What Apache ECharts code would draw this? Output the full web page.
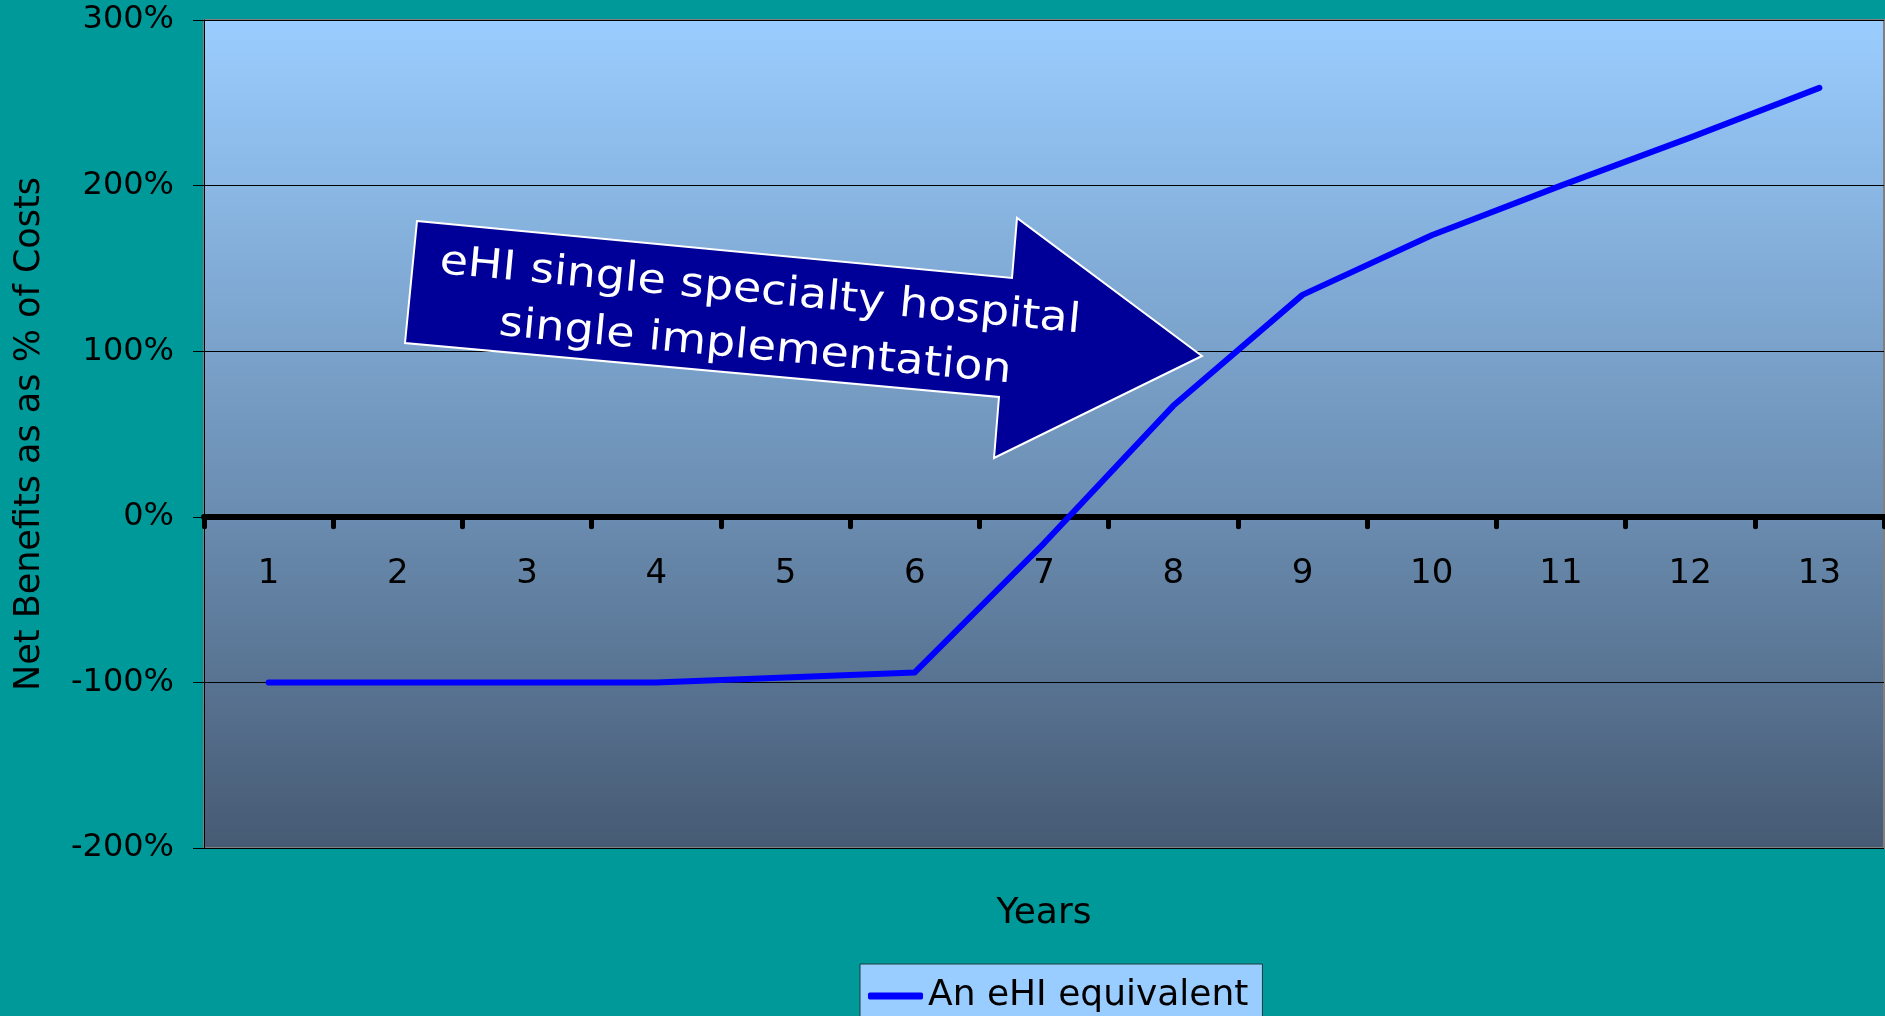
<!DOCTYPE html>
<html>
<head>
<meta charset="utf-8">
<title>Net Benefits</title>
<script src="https://cdn.jsdelivr.net/npm/echarts@6/dist/echarts.min.js"></script>
<style>
  html,body{margin:0;padding:0;background:#009999;}
  #main{width:1885px;height:1016px;}
</style>
</head>
<body>
<div id="main"></div>
<script>
// 年份 / 净收益占成本百分比
var years = ['1','2','3','4','5','6','7','8','9','10','11','12','13'];
var netBenefitPct = [-100, -100, -100, -100, -97, -94, -16, 67, 134, 170, 200, 229, 259];
var seriesName = 'An eHI equivalent';
var arrowLines = ['eHI single specialty hospital', 'single implementation'];

var FONT = 'DejaVu Sans';
var GRID_TOP = 20, GRID_BOTTOM = 168, H = 1016;
// x轴放在0%处：把底部轴向上偏移
var plotH = H - GRID_TOP - GRID_BOTTOM;
var zeroOffset = -plotH * (0 - (-200)) / (300 - (-200));

var chart = echarts.init(document.getElementById('main'));

var option = {
    backgroundColor: '#009999',
    textStyle: { fontFamily: FONT },
    grid: {
        left: 204, right: 1, top: GRID_TOP, bottom: GRID_BOTTOM,
        containLabel: false,
        outerBoundsMode: 'none',
        show: true,
        backgroundColor: new echarts.graphic.LinearGradient(0, 0, 0, 1, [
            { offset: 0, color: '#9acdff' },
            { offset: 0.6, color: '#6a8cb0' },
            { offset: 1, color: '#465a73' }
        ]),
        borderColor: '#808080',
        borderWidth: 2
    },
    legend: {
        left: 860, top: 964,
        padding: [14, 14, 16, 8],
        backgroundColor: '#99ccff',
        borderColor: '#1d3c3c',
        borderWidth: 1,
        icon: 'roundRect',
        itemWidth: 55, itemHeight: 7,
        itemStyle: { color: '#0000ff' },
        textStyle: { fontSize: 36, color: '#000', fontFamily: FONT },
        data: [seriesName]
    },
    xAxis: {
        type: 'category',
        data: years,
        boundaryGap: true,
        position: 'bottom',
        offset: zeroOffset,
        name: 'Years',
        nameLocation: 'middle',
        nameGap: 379,
        nameTextStyle: { fontSize: 36, color: '#000', fontFamily: FONT },
        axisLine: { onZero: false, lineStyle: { color: '#000', width: 6 } },
        axisTick: { show: true, length: 10, lineStyle: { color: '#000', width: 5, cap: 'round' } },
        axisLabel: { fontSize: 34, color: '#000', margin: 40, fontFamily: FONT },
        splitLine: { show: false }
    },
    yAxis: {
        type: 'value',
        min: -200, max: 300, interval: 100,
        name: 'Net Benefits as as % of Costs',
        nameLocation: 'middle',
        nameGap: 157,
        nameTextStyle: { fontSize: 35, color: '#000', fontFamily: FONT },
        axisLine: { show: true, lineStyle: { color: '#000', width: 1 } },
        axisTick: { show: true, length: 11, lineStyle: { color: '#000', width: 1 } },
        axisLabel: { fontSize: 32, color: '#000', margin: 30, formatter: '{value}%', fontFamily: FONT },
        splitLine: { show: true, lineStyle: { color: '#000', width: 1 } }
    },
    series: [{
        name: seriesName,
        type: 'line',
        data: netBenefitPct,
        symbol: 'none',
        z: 3,
        lineStyle: { color: '#0000ff', width: 6, cap: 'round', join: 'round' },
        itemStyle: { color: '#0000ff' }
    }],
    //箭头注释
    graphic: [{
        type: 'polygon',
        z: 1,
        shape: {
            points: [[417,221],[1012,278],[1017,218],[1202,356],[994,458],[999,397],[405,343]]
        },
        style: { fill: '#000099', stroke: '#ffffff', lineWidth: 2 }
    }, {
        type: 'text',
        z: 2,
        x: 760, y: 292,
        rotation: -5.3 * Math.PI / 180,
        scaleX: 1.12,
        style: {
            text: arrowLines[0], fill: '#ffffff',
            font: '41px "DejaVu Sans"',
            align: 'center', verticalAlign: 'middle'
        }
    }, {
        type: 'text',
        z: 2,
        x: 755, y: 348,
        rotation: -5.3 * Math.PI / 180,
        scaleX: 1.12,
        style: {
            text: arrowLines[1], fill: '#ffffff',
            font: '41px "DejaVu Sans"',
            align: 'center', verticalAlign: 'middle'
        }
    }]
};
chart.setOption(option);
</script>
</body>
</html>
